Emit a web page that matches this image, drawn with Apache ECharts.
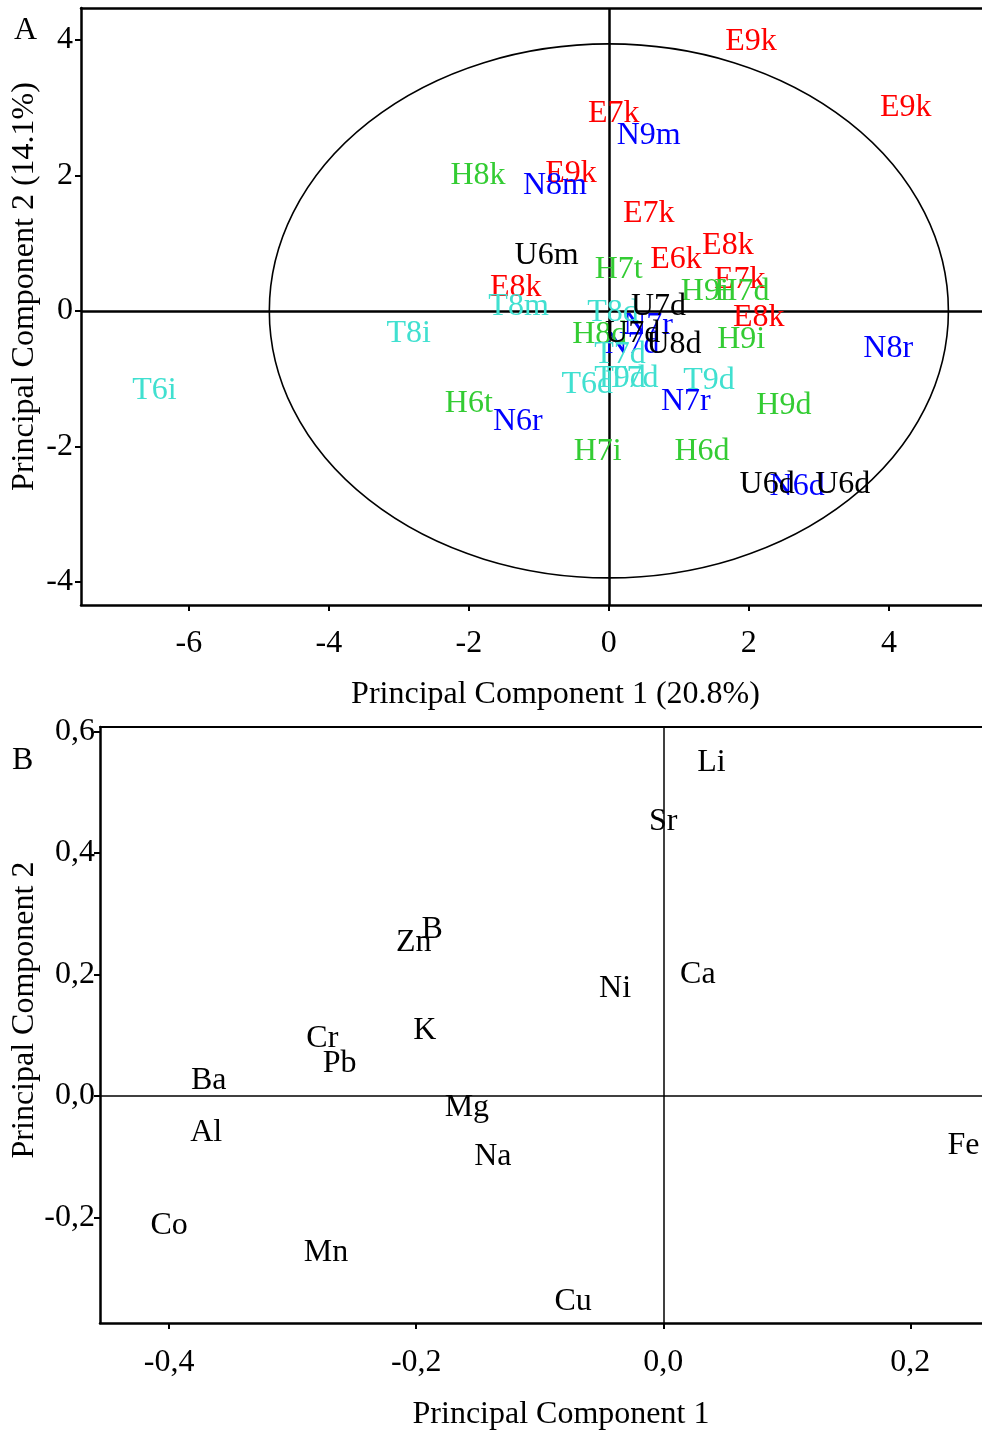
<!DOCTYPE html>
<html>
<head>
<meta charset="utf-8">
<script src="https://cdn.jsdelivr.net/npm/echarts@6/dist/echarts.min.js"></script>
<style>
html,body{margin:0;padding:0;background:#fff;}
#chart{width:982px;height:1432px;}
</style>
</head>
<body>
<div id="chart"></div>
<script>
// ---------- Panel A: sample scores ----------
const redNames = ['E9k','E9k','E7k','E9k','E7k','E8k','E6k','E7k','E8k','E8k'];
const redX     = [2.03, 4.24, 0.07, -0.54, 0.57, 1.70, 0.96, 1.87, 2.14, -1.33];
const redY     = [4.00, 3.03, 2.94, 2.05, 1.46, 0.99, 0.78, 0.49, -0.07, 0.37];

const blueNames = ['N9m','N8m','N7r','N7d','N8r','N7r','N6r','N6d'];
const blueX     = [0.57, -0.77, 0.56, 0.33, 3.99, 1.10, -1.30, 2.69];
const blueY     = [2.61, 1.88, -0.18, -0.47, -0.52, -1.31, -1.61, -2.56];

const greenNames = ['H8k','H7t','H9i','H7d','H8d','H9i','H9d','H6t','H7i','H6d'];
const greenX     = [-1.87, 0.14, 1.37, 1.90, -0.13, 1.89, 2.50, -2.00, -0.16, 1.33];
const greenY     = [2.02, 0.64, 0.32, 0.32, -0.32, -0.40, -1.37, -1.34, -2.05, -2.05];

const cyanNames = ['T8d','T8m','T8i','T6i','T7d','T6d','T9d','T7d','T9d'];
const cyanX     = [0.06, -1.29, -2.86, -6.49, 0.16, -0.31, 0.16, 0.34, 1.43];
const cyanY     = [0.00, 0.09, -0.30, -1.15, -0.61, -1.06, -0.97, -0.97, -1.00];

const blackNames = ['U6m','U7d','U7d','U8d','U6d','U6d'];
const blackX     = [-0.89, 0.71, 0.34, 0.93, 2.26, 3.34];
const blackY     = [0.84, 0.09, -0.31, -0.47, -2.53, -2.53];

// confidence ellipse: centre x, centre y, semi-axis x, semi-axis y
const ellipseA = [0, 0, 4.85, 3.94];

const xTicksA = [-6, -4, -2, 0, 2, 4];
const yTicksA = [-4, -2, 0, 2, 4];

// ---------- Panel B: element loadings ----------
const elemNames = ['Li','Sr','B','Zn','Ca','Ni','K','Cr','Pb','Ba','Mg','Al','Na','Fe','Co','Mn','Cu'];
const elemX     = [0.039, 0.000, -0.187, -0.202, 0.028, -0.039, -0.193, -0.276, -0.262, -0.368, -0.159, -0.370, -0.138, 0.243, -0.400, -0.273, -0.073];
const elemY     = [0.552, 0.454, 0.277, 0.256, 0.202, 0.179, 0.110, 0.097, 0.057, 0.028, -0.016, -0.057, -0.097, -0.079, -0.211, -0.254, -0.336];

const xTicksB = [-0.4, -0.2, 0.0, 0.2];
const yTicksB = [-0.2, 0.0, 0.2, 0.4, 0.6];

// ---------- build ----------
const FONT = 'Liberation Serif';
const LBL = 32;
function pts(names, xs, ys) {
  return names.map((n, i) => ({ name: n, value: [xs[i], ys[i]] }));
}
function labelSeries(names, xs, ys, color, xi, yi) {
  return {
    type: 'scatter', xAxisIndex: xi, yAxisIndex: yi,
    data: pts(names, xs, ys),
    symbolSize: 1, itemStyle: { color: 'rgba(0,0,0,0)', opacity: 1 },
    silent: true, z: 5,
    label: { show: true, position: 'inside', offset: [0, 2], formatter: p => p.name, opacity: 1,
      color: color, fontFamily: FONT, fontSize: LBL }
  };
}
const comma = v => (Math.abs(v) < 1e-9 ? 0 : v).toFixed(1).replace('.', ',');

const axisLineStyle = w => ({ show: true, onZero: false, lineStyle: { color: '#000', width: w } });
const tickStyle = { show: true, inside: false, length: 6, lineStyle: { color: '#000', width: 2 } };
const txt = { fontFamily: FONT, fontSize: LBL, color: '#000' };

const chart = echarts.init(document.getElementById('chart'), null, { renderer: 'canvas' });
chart.setOption({
  backgroundColor: '#fff',
  animation: false,
  title: [
    { text: 'A', left: 9, top: 10, textStyle: { fontFamily: FONT, fontSize: LBL, fontWeight: 'normal', color: '#000' } },
    { text: 'B', left: 7, top: 740, textStyle: { fontFamily: FONT, fontSize: LBL, fontWeight: 'normal', color: '#000' } }
  ],
  grid: [
    { left: 81, top: 8, width: 901, height: 597, containLabel: false, outerBoundsMode: 'none' },
    { left: 100, top: 727, width: 882, height: 596, containLabel: false, outerBoundsMode: 'none' }
  ],
  xAxis: [
    { type: 'value', gridIndex: 0, min: -7.54, max: 5.33, position: 'bottom',
      axisLine: axisLineStyle(2.5), axisTick: Object.assign({ customValues: xTicksA }, tickStyle),
      axisLabel: Object.assign({ customValues: xTicksA, margin: 23 }, txt),
      splitLine: { show: false },
      name: 'Principal Component 1 (20.8%)', nameLocation: 'middle', nameGap: 74, nameMoveOverlap: false,
      nameTextStyle: Object.assign({ padding: [0, 0, 0, 48] }, txt) },
    { type: 'value', gridIndex: 0, min: -7.54, max: 5.33, position: 'top',
      axisLine: axisLineStyle(2.5), axisTick: { show: false }, axisLabel: { show: false }, splitLine: { show: false } },
    { type: 'value', gridIndex: 1, min: -0.456, max: 0.258, position: 'bottom',
      axisLine: axisLineStyle(2.5), axisTick: Object.assign({ customValues: xTicksB }, tickStyle),
      axisLabel: Object.assign({ customValues: xTicksB, margin: 24, formatter: comma }, txt),
      splitLine: { show: false },
      name: 'Principal Component 1', nameLocation: 'middle', nameGap: 76, nameMoveOverlap: false,
      nameTextStyle: Object.assign({ padding: [0, 0, 0, 40] }, txt) },
    { type: 'value', gridIndex: 1, min: -0.456, max: 0.258, position: 'top',
      axisLine: axisLineStyle(2), axisTick: { show: false }, axisLabel: { show: false }, splitLine: { show: false } }
  ],
  yAxis: [
    { type: 'value', gridIndex: 0, min: -4.34, max: 4.47,
      axisLine: axisLineStyle(2.5), axisTick: Object.assign({ customValues: yTicksA }, tickStyle),
      axisLabel: Object.assign({ customValues: yTicksA, margin: 8 }, txt),
      splitLine: { show: false },
      name: 'Principal Component 2 (14.1%)', nameLocation: 'middle', nameGap: 40, nameMoveOverlap: false,
      nameTextStyle: Object.assign({ padding: [0, 0, 0, 40] }, txt) },
    { type: 'value', gridIndex: 1, min: -0.374, max: 0.607,
      axisLine: axisLineStyle(2.5), axisTick: Object.assign({ customValues: yTicksB }, tickStyle),
      axisLabel: Object.assign({ customValues: yTicksB, margin: 5, formatter: comma }, txt),
      splitLine: { show: false },
      name: 'Principal Component 2', nameLocation: 'middle', nameGap: 59, nameMoveOverlap: false,
      nameTextStyle: Object.assign({ padding: [0, 0, 0, 30] }, txt) }
  ],
  series: [
    {
      type: 'custom', xAxisIndex: 0, yAxisIndex: 0, silent: true, z: 2,
      data: [ellipseA],
      renderItem: (params, api) => {
        const c = api.coord([api.value(0), api.value(1)]);
        const s = api.size([api.value(2), api.value(3)]);
        return {
          type: 'path',
          shape: { pathData: 'M0,50A50,50,0,1,1,100,50A50,50,0,1,1,0,50Z',
                   x: c[0] - s[0], y: c[1] - s[1], width: 2 * s[0], height: 2 * s[1], layout: 'cover' },
          style: { fill: 'none', stroke: '#000', lineWidth: 1.6 }
        };
      }
    },
    Object.assign(labelSeries(redNames, redX, redY, '#ff0000', 0, 0), {
      markLine: { silent: true, symbol: 'none', label: { show: false },
        lineStyle: { color: '#000', width: 2.5, type: 'solid', opacity: 1 },
        data: [{ xAxis: 0 }, { yAxis: 0 }] }
    }),
    labelSeries(blueNames, blueX, blueY, '#0000ff', 0, 0),
    labelSeries(greenNames, greenX, greenY, '#33cc33', 0, 0),
    labelSeries(cyanNames, cyanX, cyanY, '#40e0d0', 0, 0),
    labelSeries(blackNames, blackX, blackY, '#000000', 0, 0),
    Object.assign(labelSeries(elemNames, elemX, elemY, '#000000', 2, 1), {
      markLine: { silent: true, symbol: 'none', label: { show: false },
        lineStyle: { color: '#000', width: 1.5, type: 'solid', opacity: 1 },
        data: [{ xAxis: 0 }, { yAxis: 0 }] }
    })
  ]
});
</script>
</body>
</html>
